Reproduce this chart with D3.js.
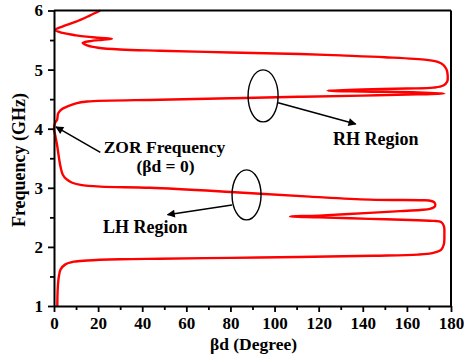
<!DOCTYPE html>
<html>
<head>
<meta charset="utf-8">
<script src="https://cdn.jsdelivr.net/npm/d3@7"></script>
<style>
  html, body { margin: 0; padding: 0; background: #fff; }
  svg { display: block; }
  text { font-family: "Liberation Serif", "Times New Roman", serif; font-weight: bold; fill: #000; }
</style>
</head>
<body>
<svg id="chart" width="464" height="358"></svg>
<script>
// Dispersion curve of the unit cell, traced in order from the lowest frequency up.
const betaDeg = [
  1.5, 1.7, 2.2, 3.0, 5.0, 9, 15, 30, 48, 80, 111, 145, 165, 172, 175.5, 176.8, 177, 176.8, 175.5, 172,
  165, 143, 120, 107, 120, 143, 157, 166, 170.5, 172.8, 172.5, 170, 166, 143, 116, 80, 43.5, 21, 12, 8,
  5.5, 4, 3, 2.4, 1.5, 0.6, 0, 0.5, 1.4, 1.9, 3.5, 5.7, 10, 15, 48, 80, 111, 140, 165, 177,
  165, 140, 124, 140, 160, 172, 176.5, 178.3, 178.5, 178, 176.5, 174, 169, 150, 130, 111.5, 80, 48, 30, 20,
  15, 13, 16, 22, 26.3, 20, 10, 4, 0.5, 4, 10, 16, 21
];
const freqGHz = [
  1.00, 1.30, 1.50, 1.62, 1.70, 1.75, 1.77, 1.79, 1.80, 1.815, 1.83, 1.85, 1.87, 1.90, 1.95, 2.05, 2.20, 2.35, 2.42, 2.44,
  2.45, 2.475, 2.50, 2.515, 2.53, 2.575, 2.605, 2.625, 2.645, 2.69, 2.75, 2.785, 2.79, 2.80, 2.85, 2.93, 3.00, 3.02, 3.05, 3.09,
  3.15, 3.22, 3.35, 3.47, 3.70, 3.88, 4.00, 4.10, 4.15, 4.26, 4.33, 4.37, 4.43, 4.46, 4.49, 4.515, 4.54, 4.56, 4.58, 4.595,
  4.615, 4.63, 4.645, 4.665, 4.68, 4.695, 4.73, 4.80, 4.90, 5.00, 5.08, 5.13, 5.165, 5.21, 5.24, 5.265, 5.29, 5.32, 5.34, 5.37,
  5.41, 5.45, 5.48, 5.505, 5.52, 5.54, 5.58, 5.62, 5.67, 5.73, 5.81, 5.91, 6.00
];

const xTicks = [0, 20, 40, 60, 80, 100, 120, 140, 160, 180];
const xMinorTicks = [10, 30, 50, 70, 90, 110, 130, 150, 170];
const yTicks = [1, 2, 3, 4, 5, 6];
const yMinorTicks = [1.5, 2.5, 3.5, 4.5, 5.5];

const xTitle = "βd (Degree)";
const yTitle = "Frequency (GHz)";

const svg = d3.select("#chart");
const m = { left: 54, right: 451, top: 10.5, bottom: 306 };

const x = d3.scaleLinear().domain([0, 180]).range([m.left, m.right]);
const y = d3.scaleLinear().domain([1, 6]).range([m.bottom, m.top]);

// arrowhead marker
svg.append("defs").append("marker")
  .attr("id", "head")
  .attr("viewBox", "0 0 10 10")
  .attr("refX", 9).attr("refY", 5)
  .attr("markerWidth", 10).attr("markerHeight", 8)
  .attr("markerUnits", "userSpaceOnUse")
  .attr("orient", "auto")
  .append("path").attr("d", "M0,0 L10,5 L0,10 Z").attr("fill", "#000");

// curve
const pts = betaDeg.map((b, i) => [b, freqGHz[i]]);
svg.append("path")
  .datum(pts)
  .attr("fill", "none")
  .attr("stroke", "#ff0000")
  .attr("stroke-width", 2.4)
  .attr("stroke-linejoin", "round")
  .attr("d", d3.line().x(d => x(d[0])).y(d => y(d[1])).curve(d3.curveCatmullRom.alpha(0.5)));

// frame: top and right edges
svg.append("line").attr("x1", m.left).attr("x2", m.right).attr("y1", m.top).attr("y2", m.top)
  .attr("stroke", "#000").attr("stroke-width", 2);
svg.append("line").attr("x1", m.right).attr("x2", m.right).attr("y1", m.top).attr("y2", m.bottom)
  .attr("stroke", "#000").attr("stroke-width", 2);

// bottom axis
svg.append("g").attr("transform", `translate(0,${m.bottom})`)
  .call(d3.axisBottom(x).tickValues(xTicks).tickFormat(d3.format("d")).tickSize(6).tickSizeOuter(0).tickPadding(5));
svg.append("g").attr("transform", `translate(0,${m.bottom})`)
  .call(d3.axisBottom(x).tickValues(xMinorTicks).tickFormat("").tickSize(4).tickSizeOuter(0))
  .select(".domain").remove();

// left axis
svg.append("g").attr("transform", `translate(${m.left},0)`)
  .call(d3.axisLeft(y).tickValues(yTicks).tickFormat(d3.format("d")).tickSize(6).tickSizeOuter(0).tickPadding(5));
svg.append("g").attr("transform", `translate(${m.left},0)`)
  .call(d3.axisLeft(y).tickValues(yMinorTicks).tickFormat("").tickSize(4).tickSizeOuter(0))
  .select(".domain").remove();

svg.selectAll(".domain").attr("stroke", "#000").attr("stroke-width", 2);
svg.selectAll(".tick line").attr("stroke", "#000").attr("stroke-width", 1.8);
svg.selectAll(".tick text")
  .attr("font-family", "Liberation Serif, Times New Roman, serif")
  .attr("font-weight", "bold")
  .attr("font-size", 17)
  .attr("fill", "#000");

// axis titles
svg.append("text").attr("x", (m.left + m.right) / 2 + 1).attr("y", 349.5)
  .attr("text-anchor", "middle").attr("font-size", 17.5).text(xTitle);
svg.append("text").attr("transform", "translate(25,160) rotate(-90)")
  .attr("text-anchor", "middle").attr("font-size", 18).text(yTitle);

// annotations
function arrow(b0, f0, b1, f1) {
  svg.append("line")
    .attr("x1", x(b0)).attr("y1", y(f0)).attr("x2", x(b1)).attr("y2", y(f1))
    .attr("stroke", "#000").attr("stroke-width", 1.6)
    .attr("marker-end", "url(#head)");
}
function ring(b, f, rx, ry) {
  svg.append("ellipse").attr("cx", x(b)).attr("cy", y(f)).attr("rx", rx).attr("ry", ry)
    .attr("fill", "none").attr("stroke", "#000").attr("stroke-width", 1.4);
}

// zeroth-order resonance point
arrow(21, 3.6, 0.9, 4.03);
svg.append("text").attr("x", 164.5).attr("y", 153).attr("text-anchor", "middle")
  .attr("font-size", 17.5).text("ZOR Frequency");
svg.append("text").attr("x", 165.5).attr("y", 171.5).attr("text-anchor", "middle")
  .attr("font-size", 17.5).text("(βd = 0)");

// left-handed band
ring(87.3, 2.88, 14.5, 25);
arrow(80.7, 2.71, 51.5, 2.545);
svg.append("text").attr("x", 103).attr("y", 233).attr("font-size", 18).text("LH Region");

// right-handed band
ring(94.8, 4.555, 15, 26);
arrow(101.6, 4.44, 136.8, 4.08);
svg.append("text").attr("x", 333).attr("y", 145).attr("font-size", 18).text("RH Region");
</script>
</body>
</html>
